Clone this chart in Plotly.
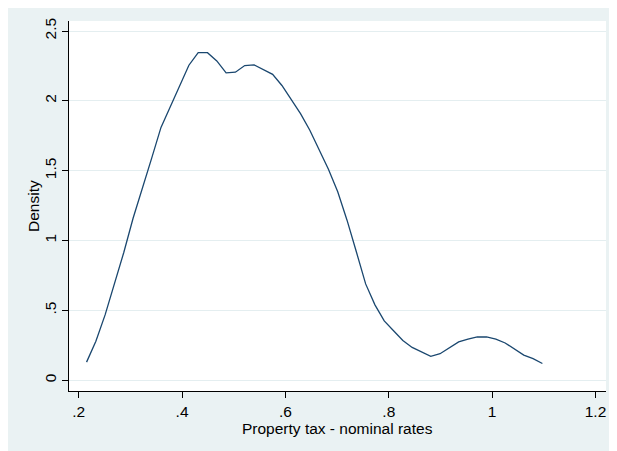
import plotly.graph_objects as go

# Kernel density estimate evaluation points (x) and density values (y)
tax_rate = [0.2152, 0.2332, 0.2512, 0.2692, 0.2872, 0.3052, 0.3232, 0.3412, 0.3592, 0.3772,
            0.3952, 0.4132, 0.4312, 0.4492, 0.4672, 0.4852, 0.5032, 0.5212, 0.5392, 0.5572,
            0.5752, 0.5932, 0.6112, 0.6292, 0.6472, 0.6652, 0.6832, 0.7012, 0.7192, 0.7372,
            0.7552, 0.7732, 0.7912, 0.8092, 0.8272, 0.8452, 0.8632, 0.8812, 0.8992, 0.9172,
            0.9352, 0.9532, 0.9712, 0.9892, 1.0072, 1.0252, 1.0432, 1.0612, 1.0792, 1.0972]
density = [0.13, 0.28, 0.47, 0.69, 0.915, 1.16, 1.37, 1.59, 1.81, 1.96,
           2.11, 2.255, 2.345, 2.345, 2.286, 2.20, 2.205, 2.253, 2.258, 2.226,
           2.19, 2.11, 2.01, 1.909, 1.79, 1.656, 1.51, 1.35, 1.146, 0.92,
           0.69, 0.54, 0.425, 0.355, 0.285, 0.235, 0.203, 0.172, 0.19, 0.235,
           0.275, 0.295, 0.31, 0.31, 0.295, 0.267, 0.225, 0.18, 0.155, 0.12]

x_tickvals = [0.2, 0.4, 0.6, 0.8, 1.0, 1.2]
x_ticktext = [".2", ".4", ".6", ".8", "1", "1.2"]
y_tickvals = [0, 0.5, 1, 1.5, 2, 2.5]
y_ticktext = ["0", ".5", "1", "1.5", "2", "2.5"]

x_title = "Property tax - nominal rates"
y_title = "Density"

BG = "#EAF2F3"
GRID = "#E4EEF0"
LINE = "#1A476F"
FONT = "Liberation Sans, Arial, sans-serif"
FS = 15.5

fig = go.Figure()
fig.add_trace(go.Scatter(x=tax_rate, y=density, mode="lines",
                         line=dict(color=LINE, width=1.3), hoverinfo="skip",
                         showlegend=False))

# page has an 8px body margin, so the figure is placed at (8, 8)
W, H = 609, 443
ml, mr, mt, mb = 61, 11, 13, 60
pw, ph = W - ml - mr, H - mt - mb

fig.update_layout(
    width=W, height=H,
    margin=dict(l=ml, r=mr, t=mt, b=mb, pad=0),
    paper_bgcolor=BG,
    plot_bgcolor="white",
    font=dict(family=FONT, size=FS, color="black"),
    showlegend=False,
    annotations=[
        dict(text=x_title, xref="paper", yref="paper", x=0.5,
             y=-(420 - (mt + ph)) / ph,
             xanchor="center", yanchor="middle", showarrow=False,
             font=dict(family=FONT, size=FS, color="black")),
        dict(text=y_title, xref="paper", yref="paper", x=-(ml - 25) / pw, y=0.5,
             xanchor="center", yanchor="middle", showarrow=False, textangle=-90,
             font=dict(family=FONT, size=FS, color="black")),
    ],
)

fig.update_xaxes(range=[0.1812, 1.2203], tickvals=x_tickvals, ticktext=x_ticktext,
                 showgrid=False, zeroline=False, showline=True, linecolor="black",
                 linewidth=1, ticks="outside", ticklen=6, tickcolor="black", tickwidth=1,
                 tickfont=dict(family=FONT, size=FS, color="black"))
fig.update_yaxes(range=[-0.0766, 2.5716], tickvals=y_tickvals, ticktext=y_ticktext,
                 showgrid=True, gridcolor=GRID, gridwidth=1, zeroline=False,
                 showline=True, linecolor="black", linewidth=1, ticks="outside",
                 ticklen=6, tickcolor="black", tickwidth=1, tickangle=-90,
                 tickfont=dict(family=FONT, size=FS, color="black"))

fig.write_html("out.html")
